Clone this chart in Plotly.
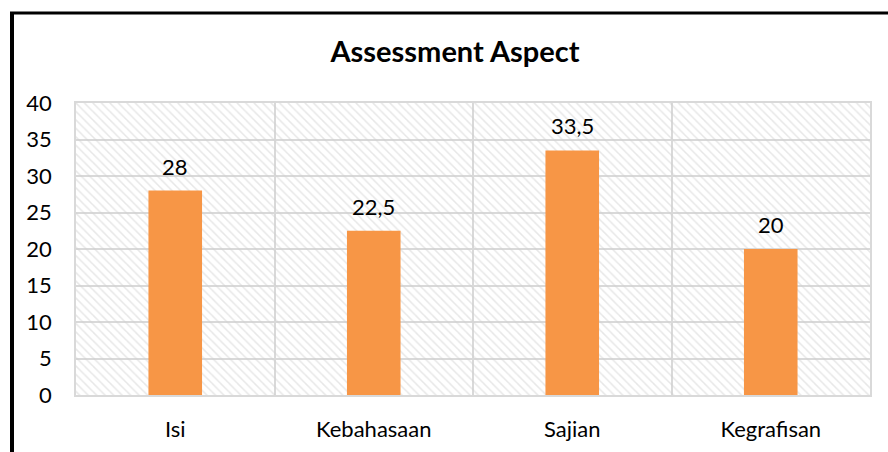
import plotly.graph_objects as go

categories = ["Isi", "Kebahasaan", "Sajian", "Kegrafisan"]
values = [28, 22.5, 33.5, 20]
y_max = 40
y_ticks = [0, 5, 10, 15, 20, 25, 30, 35, 40]
title = "Assessment Aspect"

FONT = "Lato, Open Sans, sans-serif"
GRID = "#d9d9d9"

L, R, T, B = 76, 18, 103, 57
W, H = 888, 452
pw, ph = W - L - R, H - T - B

fig = go.Figure()
# hatched plot background
fig.add_trace(go.Bar(
    x=[0.5], y=[y_max], width=[1], xaxis="x", yaxis="y",
    marker=dict(color="rgba(0,0,0,0)", line=dict(width=0),
                pattern=dict(shape="\\", fgcolor="#d0d0d0", bgcolor="rgba(0,0,0,0)",
                             size=6, solidity=0.25)),
    hoverinfo="skip", showlegend=False,
))
fig.add_trace(go.Bar(
    x=categories, y=values, xaxis="x2", yaxis="y",
    width=0.27,
    marker=dict(color="#F79646", line=dict(width=0)),
    showlegend=False,
))

labels = [("%g" % v).replace(".", ",") for v in values]
annotations = [
    dict(x=c, y=v, xref="x2", yref="y", text=t, showarrow=False,
         yanchor="bottom", yshift=9,
         font=dict(family=FONT, size=22, color="#000"))
    for c, v, t in zip(categories, values, labels)
]

fig.update_layout(
    width=W, height=H,
    margin=dict(l=L, r=R, t=T, b=B, autoexpand=False),
    paper_bgcolor="white", plot_bgcolor="white",
    separators=",.",
    barmode="overlay",
    font=dict(family=FONT, size=22, color="#000"),
    title=dict(text="<b>" + title + "</b>", x=455 / W, xanchor="center",
               xref="container", y=1 - 52 / H, yanchor="middle", yref="container",
               font=dict(family=FONT, size=29, color="#000")),
    xaxis=dict(range=[0, 1], visible=False, fixedrange=True),
    xaxis2=dict(overlaying="x", side="bottom", type="category", automargin=False,
                tickson="boundaries", showgrid=True, gridcolor=GRID, gridwidth=1.5,
                showline=True, linecolor=GRID, linewidth=1.5, mirror=True,
                ticks="", ticklabelstandoff=14,
                tickfont=dict(family=FONT, size=22, color="#000")),
    yaxis=dict(range=[0, y_max], tickvals=y_ticks, showgrid=True, gridcolor=GRID,
               gridwidth=1.5, zeroline=False, ticks="", ticklabelstandoff=18,
               automargin=False,
               showline=True, linecolor=GRID, linewidth=1.5, mirror=True,
               tickfont=dict(family=FONT, size=22, color="#000")),
    annotations=annotations,
    shapes=[
        dict(type="line", xref="paper", yref="paper",
             x0=(12 - L) / pw, x1=(12 - L) / pw, y0=-1, y1=1 + (T - 13) / ph,
             line=dict(color="black", width=4)),
        dict(type="line", xref="paper", yref="paper",
             x0=(10 - L) / pw, x1=1.2, y0=1 + (T - 13) / ph, y1=1 + (T - 13) / ph,
             line=dict(color="black", width=3)),
    ],
)

fig.write_html("out.html", config={"displayModeBar": False},
               post_script="document.body.style.margin='0';")
